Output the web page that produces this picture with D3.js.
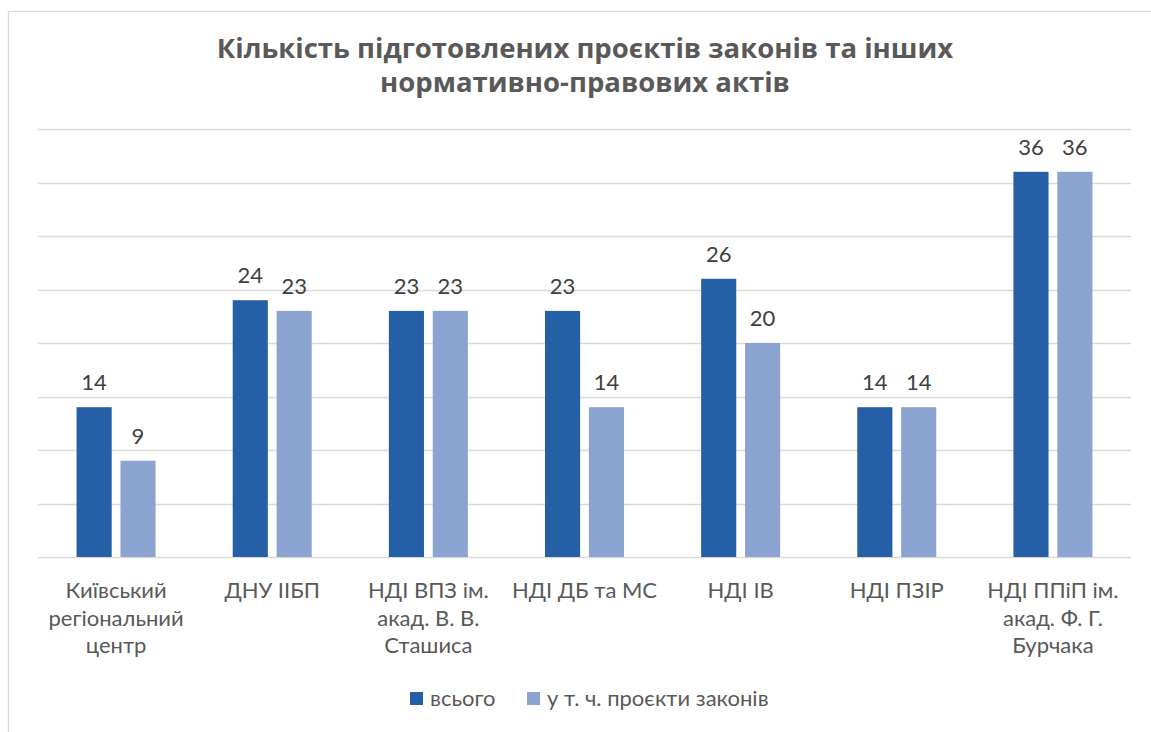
<!DOCTYPE html>
<html>
<head>
<meta charset="utf-8">
<script src="https://cdn.jsdelivr.net/npm/d3@7"></script>
<style>
  body { margin: 0; background: #fff; }
  svg { display: block; }
</style>
</head>
<body>
<div id="chart"></div>
<script>
// chart data
var categories = [
    ['Київський', 'регіональний', 'центр'],
    ['ДНУ ІІБП'],
    ['НДІ ВПЗ ім.', 'акад. В. В.', 'Сташиса'],
    ['НДІ ДБ та МС'],
    ['НДІ ІВ'],
    ['НДІ ПЗІР'],
    ['НДІ ППіП ім.', 'акад. Ф. Г.', 'Бурчака']
];
var seriesNames = ['всього', 'у т. ч. проєкти законів'];
var totalValues = [14, 24, 23, 23, 26, 14, 36];
var lawValues = [9, 23, 23, 14, 20, 14, 36];
var yTicks = [0, 5, 10, 15, 20, 25, 30, 35, 40];
var colors = ['#2560a6', '#8ba3d0'];

var W = 1151, H = 732;
var margin = { top: 129, right: 20, bottom: 175, left: 38 };
var labelFont = 'Lato, sans-serif';
var labelSize = 22;

var svg = d3.select('#chart').append('svg')
    .attr('width', W)
    .attr('height', H);

// outer frame (cut off at right and bottom like the picture)
svg.append('rect')
    .attr('x', 8.5).attr('y', 11.5)
    .attr('width', W + 10).attr('height', H + 10)
    .attr('fill', '#fff')
    .attr('stroke', '#d9d9d9')
    .attr('stroke-width', 1.3);

// title
var title = svg.append('text')
    .attr('text-anchor', 'middle')
    .attr('font-family', '"Open Sans", sans-serif')
    .attr('font-weight', 700)
    .attr('font-size', 27.5)
    .attr('fill', '#595959');
title.append('tspan').attr('x', 585).attr('y', 58).text('Кількість підготовлених проєктів законів та інших');
title.append('tspan').attr('x', 585).attr('y', 92).text('нормативно-правових актів');

var x0 = d3.scaleBand()
    .domain(d3.range(categories.length))
    .range([margin.left, 1131])
    .paddingInner(0)
    .paddingOuter(0);

var x1 = d3.scaleBand()
    .domain([0, 1])
    .range([0, 79])
    .paddingInner(0.2);

var y = d3.scaleLinear()
    .domain([0, 40])
    .range([557, margin.top]);

// gridlines
svg.append('g')
    .selectAll('line')
    .data(yTicks)
    .join('line')
    .attr('x1', margin.left)
    .attr('x2', 1131)
    .attr('y1', function (d) { return Math.round(y(d)) + 0.5; })
    .attr('y2', function (d) { return Math.round(y(d)) + 0.5; })
    .attr('stroke', '#d9d9d9')
    .attr('stroke-width', 1.5);

var rows = categories.map(function (c, i) {
    return { i: i, vals: [totalValues[i], lawValues[i]] };
});

var groups = svg.append('g')
    .selectAll('g')
    .data(rows)
    .join('g')
    .attr('transform', function (d) {
        return 'translate(' + (x0(d.i) + x0.bandwidth() / 2 - 39.5) + ',0)';
    });

groups.selectAll('rect')
    .data(function (d) { return d.vals.map(function (v, k) { return { k: k, v: v }; }); })
    .join('rect')
    .attr('x', function (d) { return x1(d.k); })
    .attr('y', function (d) { return y(d.v); })
    .attr('width', x1.bandwidth())
    .attr('height', function (d) { return y(0) - y(d.v); })
    .attr('fill', function (d) { return colors[d.k]; });

// value labels
groups.selectAll('text.val')
    .data(function (d) { return d.vals.map(function (v, k) { return { k: k, v: v }; }); })
    .join('text')
    .attr('class', 'val')
    .attr('x', function (d) { return x1(d.k) + x1.bandwidth() / 2; })
    .attr('y', function (d) { return y(d.v) - 17; })
    .attr('text-anchor', 'middle')
    .attr('font-family', labelFont)
    .attr('font-size', labelSize)
    .attr('fill', '#404040')
    .text(function (d) { return d.v; });

// category labels
var catLabels = svg.append('g')
    .selectAll('text')
    .data(rows)
    .join('text')
    .attr('text-anchor', 'middle')
    .attr('font-family', labelFont)
    .attr('font-size', labelSize)
    .attr('fill', '#595959');

catLabels.selectAll('tspan')
    .data(function (d) {
        return categories[d.i].map(function (t, n) { return { t: t, n: n, i: d.i }; });
    })
    .join('tspan')
    .attr('x', function (d) { return x0(d.i) + x0.bandwidth() / 2; })
    .attr('y', function (d) { return 598 + d.n * 27.5; })
    .text(function (d) { return d.t; });

// legend
var legendX = [410, 527];
var legend = svg.append('g')
    .selectAll('g')
    .data(seriesNames)
    .join('g')
    .attr('transform', function (d, i) { return 'translate(' + legendX[i] + ',692)'; });

legend.append('rect')
    .attr('width', 13)
    .attr('height', 13)
    .attr('fill', function (d, i) { return colors[i]; });

legend.append('text')
    .attr('x', 20)
    .attr('y', 14)
    .attr('font-family', labelFont)
    .attr('font-size', labelSize)
    .attr('fill', '#595959')
    .text(function (d) { return d; });
</script>
</body>
</html>
